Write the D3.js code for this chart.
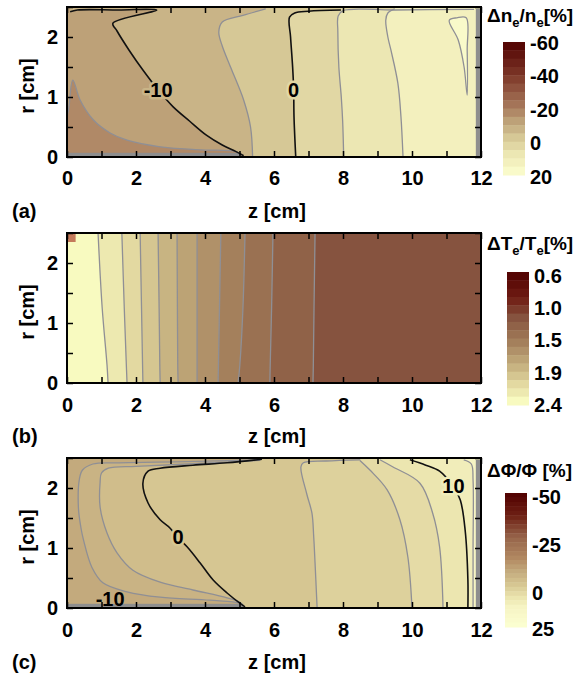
<!DOCTYPE html>
<html>
<head>
<meta charset="utf-8">
<script src="https://cdn.jsdelivr.net/npm/d3@7/dist/d3.min.js"></script>
<style>
  body { margin: 0; background: #fff; }
  text { font-family: "Liberation Sans", Arial, sans-serif; font-weight: bold; }
</style>
</head>
<body>
<div id="chart"></div>
<script>
// ticks shared by the three panels (cm)
var zTicks = [0, 1, 2, 3, 4, 5, 6, 7, 8, 9, 10, 11, 12];
var rTicks = [0, 0.5, 1, 1.5, 2, 2.5];

// ---- (a) dne/ne [%] ; contour points are [z, r] in cm
var neTicks = [-60, -40, -20, 0, 20];
var neTickLabels = ["-60", "-40", "-20", "0", "20"];
var neBase = -12.5;
var neCorner = [[0.05, 0], [0.07, 0.9], [0.17, 1.28], [0.38, 0.95], [0.76, 0.62], [1.25, 0.4], [1.74, 0.28], [2.7, 0.17], [3.87, 0.12], [4.94, 0.08], [5.0, 0]];
var neM10 = [[0.09, 2.42], [0.3, 2.45], [1.5, 2.45], [2.6, 2.45], [1.33, 2.23], [1.45, 2.1], [1.8, 1.78], [2.2, 1.45], [2.64, 1.12], [3.07, 0.84], [3.55, 0.6], [4.05, 0.36], [4.5, 0.2], [4.9, 0.09], [5.12, 0.02]];
var neM5 = [[5.76, 2.47], [5.1, 2.36], [4.5, 2.25], [4.4, 2.08], [4.5, 1.85], [4.74, 1.5], [5.12, 0.95], [5.32, 0.5], [5.38, 0]];
var ne0 = [[7.94, 2.45], [7.0, 2.43], [6.6, 2.4], [6.45, 2.33], [6.48, 2.0], [6.54, 1.5], [6.57, 1.12], [6.58, 0.67], [6.63, 0]];
var neP5 = [[11.8, 2.46], [9.5, 2.45], [8.0, 2.44], [7.86, 2.35], [7.85, 2.1], [7.88, 1.5], [7.95, 1.0], [7.99, 0.6], [8.02, 0]];
var neP10 = [[9.5, 2.47], [9.3, 2.4], [9.24, 2.28], [9.3, 2.0], [9.39, 1.78], [9.59, 1.23], [9.68, 0.67], [9.74, 0]];
var neP15 = [[11.08, 2.28], [11.3, 2.32], [11.57, 2.32], [11.6, 1.78], [11.6, 1.03], [11.51, 1.5], [11.34, 1.95]];
var neLevels = [-15, -10, -5, 0, 5, 10, 15];
var neFills = [-17.5, -7.5, -2.5, 2.5, 7.5, 12.5, 17.5];
var neWalls = [[11.85, 12, 0, 2.47], [0, 5.05, 0, 0.07]];
var neLabels = [["-10", 2.64, 1.12, -7.5], ["0", 6.57, 1.12, 2.5]];

// ---- (b) dTe/Te [%] ; nearly straight lines, z at r = 2.5, 1.25, 0.3, 0
var teTicks = [0.6, 1.05, 1.5, 1.95, 2.4];
var teTickLabels = ["0.6", "1.0", "1.5", "1.9", "2.4"];
var teBase = 2.34;
var teTop = [0.9, 1.59, 2.12, 2.64, 3.19, 3.77, 4.46, 5.16, 5.97, 7.19];
var teMid = [1.02, 1.66, 2.16, 2.67, 3.2, 3.77, 4.42, 5.1, 5.93, 7.16];
var teLow = [1.16, 1.72, 2.19, 2.69, 3.21, 3.77, 4.39, 5.01, 5.89, 7.14];
var teBot = [1.19, 1.74, 2.2, 2.7, 3.22, 3.77, 4.38, 4.96, 5.88, 7.13];
var teLevels = [2.29, 2.18, 2.06, 1.95, 1.84, 1.73, 1.61, 1.5, 1.39, 1.28];
var teFills = [2.23, 2.12, 2.01, 1.89, 1.78, 1.67, 1.56, 1.44, 1.33, 1.22];
var teCorner = [[0, 0.25, 2.35, 2.5]];

// ---- (c) dPhi/Phi [%]
var phTicks = [-50, -25, 0, 25];
var phTickLabels = ["-50", "-25", "0", "25"];
var phBase = -6.25;
var phM5 = [[5.6, 2.47], [3.5, 2.44], [1.5, 2.42], [0.75, 2.4], [0.45, 2.3], [0.36, 2.15], [0.33, 1.68], [0.4, 1.35], [0.48, 1.13], [0.72, 0.68], [1.04, 0.42], [1.74, 0.27], [2.7, 0.18], [4.14, 0.13], [5.0, 0.08], [5.1, 0.03]];
var phM2 = [[5.6, 2.46], [3.5, 2.4], [2.0, 2.36], [1.2, 2.33], [1.0, 2.25], [0.96, 2.1], [0.96, 1.68], [1.16, 1.25], [1.45, 0.92], [1.91, 0.63], [2.7, 0.43], [3.65, 0.3], [4.64, 0.17], [5.0, 0.1], [5.12, 0.04]];
var ph0 = [[5.65, 2.48], [4.64, 2.42], [3.65, 2.38], [2.7, 2.33], [2.35, 2.28], [2.2, 2.08], [2.35, 1.75], [2.7, 1.47], [2.99, 1.33], [3.2, 1.18], [3.48, 1.02], [3.86, 0.75], [4.23, 0.47], [4.64, 0.25], [5.01, 0.08], [5.16, 0.02]];
var phP2 = [[8.5, 2.47], [7.5, 2.45], [6.85, 2.42], [6.78, 2.35], [6.95, 1.9], [7.1, 1.58], [7.15, 1.2], [7.19, 0.75], [7.25, 0]];
var phP5 = [[8.49, 2.46], [8.78, 2.3], [9.28, 1.97], [9.65, 1.47], [9.88, 0.85], [10.0, 0]];
var phP7 = [[9.07, 2.47], [9.45, 2.35], [10.23, 2.08], [10.6, 1.58], [10.8, 1.02], [10.9, 0]];
var phP10 = [[9.94, 2.47], [10.4, 2.38], [10.8, 2.28], [11.2, 2.02], [11.4, 1.8], [11.54, 1.3], [11.62, 0.47], [11.62, 0]];
var phP12 = [[11.5, 2.47], [11.72, 2.4], [11.77, 2.13], [11.77, 1.0], [11.77, 0]];
var phLevels = [-5, -2.5, 0, 2.5, 5, 7.5, 10, 12.5];
var phFills = [-3.75, -1.25, 1.25, 3.75, 6.25, 8.75, 11.25, 13.75];
var phWalls = [[11.85, 12, 0, 2.47], [0, 5.1, 0, 0.07]];
var phLabels = [["0", 3.22, 1.18, 1.25], ["10", 11.2, 2.04, 11.25], ["-10", 1.25, 0.15, null]];

var svg = d3.select("#chart").append("svg").attr("width", 576).attr("height", 681);
var x = d3.scaleLinear().domain([0, 12]).range([67, 481]);

var panels = [
  {
    id: "a", top: 7, bottom: 157, pad: 14, tag: "(a)", textY: 218,
    base: neBase, levels: neLevels, fills: neFills, walls: neWalls, labels: neLabels,
    lines: [neCorner, neM10, neM5, ne0, neP5, neP10, neP15],
    closed: [true, false, false, false, false, false, true],
    bands: 16, cbDomain: [-60, 20], cbX: 503, cbY: [42, 175],
    tickScale: d3.scaleLinear().domain([-60, 20]).range([43, 177]),
    ticks: neTicks, tickLabels: neTickLabels,
    title: [["Δn", 0], ["e", 1], ["/n", 0], ["e", 1], ["[%]", 0]], titleY: 22,
    rampStops: [0, 0.25, 0.5, 0.6, 0.72, 0.84, 1],
    rampColors: ["#500000", "#7d3728", "#aa7d5f", "#bea37a", "#d6c896", "#ece6b2", "#fcffd0"]
  },
  {
    id: "b", top: 233, bottom: 383, pad: 15, tag: "(b)", textY: 443,
    base: teBase, levels: teLevels, fills: teFills, walls: [], labels: [],
    lines: teTop.map(function(d, i) { return [[teTop[i], 2.5], [teMid[i], 1.25], [teLow[i], 0.3], [teBot[i], 0]]; }),
    closed: teTop.map(function() { return false; }),
    bands: 16, cbDomain: [0.6, 2.4], cbX: 507, cbY: [272, 405],
    tickScale: d3.scaleLinear().domain([0.6, 2.4]).range([276, 405]),
    ticks: teTicks, tickLabels: teTickLabels,
    title: [["ΔT", 0], ["e", 1], ["/T", 0], ["e", 1], ["[%]", 0]], titleY: 250,
    rampStops: [0, 0.2, 0.34, 0.53, 0.72, 0.84, 0.97, 1],
    rampColors: ["#500000", "#701e14", "#85523e", "#a4805c", "#c8b482", "#e2d8a0", "#f8fac0", "#fcffc8"]
  },
  {
    id: "c", top: 458, bottom: 608, pad: 15, tag: "(c)", textY: 669,
    base: phBase, levels: phLevels, fills: phFills, walls: phWalls, labels: phLabels,
    lines: [phM5, phM2, ph0, phP2, phP5, phP7, phP10, phP12],
    closed: [false, false, false, false, false, false, false, false],
    bands: 30, cbDomain: [-50, 25], cbX: 505, cbY: [493, 627],
    tickScale: d3.scaleLinear().domain([-50, 0, 25]).range([497, 593, 629]),
    ticks: phTicks, tickLabels: phTickLabels,
    title: [["ΔΦ/Φ [%]", 0]], titleY: 477,
    rampStops: [0, 0.17, 0.33, 0.5, 0.583, 0.683, 0.783, 0.85, 1],
    rampColors: ["#500000", "#6e2014", "#96644a", "#b48c64", "#c3aa7d", "#d6c692", "#ece6b0", "#f6f4c4", "#fcffd2"]
  }
];

panels.forEach(drawPanel);

function drawPanel(p) {
  var y = d3.scaleLinear().domain([0, 2.5]).range([p.bottom, p.top]);
  var ramp = d3.scaleLinear().domain(p.rampStops).range(p.rampColors).clamp(true);
  var color = function(v) {
    var t = (v - p.cbDomain[0]) / (p.cbDomain[1] - p.cbDomain[0]);
    var k = Math.max(0, Math.min(p.bands - 1, Math.floor(t * p.bands)));
    return ramp((k + 0.5) / p.bands);
  };
  var g = svg.append("g");

  g.append("clipPath").attr("id", "clip-" + p.id)
    .append("rect")
    .attr("x", x(0)).attr("y", y(2.5))
    .attr("width", x(12) - x(0)).attr("height", y(0) - y(2.5));
  var plot = g.append("g").attr("clip-path", "url(#clip-" + p.id + ")");

  plot.append("rect")
    .attr("x", x(0)).attr("y", y(2.5))
    .attr("width", x(12) - x(0)).attr("height", y(0) - y(2.5))
    .attr("fill", color(p.base));

  var open = d3.line().x(function(d) { return x(d[0]); }).y(function(d) { return y(d[1]); })
    .curve(d3.curveCatmullRom.alpha(0.5));
  var shut = d3.line().x(function(d) { return x(d[0]); }).y(function(d) { return y(d[1]); })
    .curve(d3.curveCatmullRomClosed.alpha(0.5));

  // filled bands, painted left to right
  p.lines.forEach(function(pts, i) {
    var d;
    if (p.closed[i]) {
      d = shut(pts);
    } else {
      var first = pts[0], last = pts[pts.length - 1];
      d = open(pts) +
        "L" + x(last[0]) + "," + y(-0.2) +
        "L" + x(12.5) + "," + y(-0.2) +
        "L" + x(12.5) + "," + y(2.7) +
        "L" + x(first[0]) + "," + y(2.7) + "Z";
    }
    plot.append("path").attr("d", d).attr("fill", color(p.fills[i]));
  });

  if (p.id === "b") {
    teCorner.forEach(function(c) {
      plot.append("rect")
        .attr("x", x(c[0])).attr("y", y(c[3]))
        .attr("width", x(c[1]) - x(c[0])).attr("height", y(c[2]) - y(c[3]))
        .attr("fill", "#c47a5a");
    });
  }

  // dense contours squeezed against the walls
  p.walls.forEach(function(w) {
    plot.append("rect")
      .attr("x", x(w[0])).attr("y", y(w[3]))
      .attr("width", x(w[1]) - x(w[0])).attr("height", y(w[2]) - y(w[3]))
      .attr("fill", "#8e8e8e");
  });

  var labelled = p.labels.map(function(l) { return +l[0]; });
  p.lines.forEach(function(pts, i) {
    var black = labelled.indexOf(p.levels[i]) >= 0;
    plot.append("path")
      .attr("d", p.closed[i] ? shut(pts) : open(pts))
      .attr("fill", "none")
      .attr("stroke", black ? "#111" : "#8f8f95")
      .attr("stroke-width", black ? 1.6 : 1.3);
  });

  p.labels.forEach(function(l) {
    var t = plot.append("text")
      .attr("x", x(l[1])).attr("y", y(l[2])).attr("dy", "0.36em")
      .attr("text-anchor", "middle").attr("font-size", 20)
      .text(l[0]);
    if (l[3] !== null) {
      t.attr("stroke", color(l[3])).attr("stroke-width", 5)
        .attr("paint-order", "stroke").attr("stroke-linejoin", "round");
    }
  });

  // axes with inward ticks on all four sides
  function style(sel) {
    sel.attr("font-family", null).attr("font-size", 20);
    sel.select(".domain").remove();
    sel.selectAll("line").attr("stroke", "#000").attr("stroke-width", 1.5);
    sel.selectAll("text").attr("fill", "#000");
  }
  g.append("g").attr("transform", "translate(0," + y(0) + ")")
    .call(d3.axisBottom(x).tickValues(zTicks)
      .tickFormat(function(d) { return d % 2 ? "" : d; })
      .tickSizeInner(-6).tickSizeOuter(0).tickPadding(p.pad))
    .call(style);
  g.append("g").attr("transform", "translate(0," + y(2.5) + ")")
    .call(d3.axisTop(x).tickValues(zTicks).tickFormat("").tickSizeInner(-6).tickSizeOuter(0))
    .call(style);
  g.append("g").attr("transform", "translate(" + x(0) + ",0)")
    .call(d3.axisLeft(y).tickValues(rTicks)
      .tickFormat(function(d) { return d % 1 ? "" : d; })
      .tickSizeInner(-6).tickSizeOuter(0).tickPadding(9))
    .call(style);
  g.append("g").attr("transform", "translate(" + x(12) + ",0)")
    .call(d3.axisRight(y).tickValues(rTicks).tickFormat("").tickSizeInner(-6).tickSizeOuter(0))
    .call(style);

  g.append("rect")
    .attr("x", x(0)).attr("y", y(2.5))
    .attr("width", x(12) - x(0)).attr("height", y(0) - y(2.5))
    .attr("fill", "none").attr("stroke", "#000").attr("stroke-width", 2);

  g.append("text")
    .attr("x", (x(0) + x(12)) / 2 + 3).attr("y", p.textY)
    .attr("text-anchor", "middle").attr("font-size", 20)
    .text("z [cm]");
  g.append("text")
    .attr("x", 12).attr("y", p.textY)
    .attr("font-size", 20)
    .text(p.tag);
  g.append("text")
    .attr("transform", "translate(34," + ((p.top + p.bottom) / 2 + 4) + ") rotate(-90)")
    .attr("text-anchor", "middle").attr("font-size", 20)
    .text("r [cm]");

  // colour bar
  var cy = d3.scaleLinear().domain(p.cbDomain).range(p.cbY);
  var step = (p.cbDomain[1] - p.cbDomain[0]) / p.bands;
  var edges = d3.range(p.bands).map(function(i) { return p.cbDomain[0] + i * step; });
  g.selectAll(".band").data(edges).enter().append("rect")
    .attr("x", p.cbX).attr("width", 22)
    .attr("y", function(d) { return cy(d); })
    .attr("height", function(d) { return cy(d + step) - cy(d) + 0.5; })
    .attr("fill", function(d) { return color(d + step / 2); });

  g.append("g").attr("transform", "translate(" + (p.cbX + 22) + ",0)")
    .call(d3.axisRight(p.tickScale).tickValues(p.ticks)
      .tickFormat(function(d, i) { return p.tickLabels[i]; })
      .tickSize(0).tickPadding(5))
    .call(style);

  var title = g.append("text").attr("x", 487).attr("y", p.titleY).attr("font-size", 19);
  p.title.forEach(function(part, i) {
    var prev = i > 0 ? p.title[i - 1][1] : 0;
    title.append("tspan")
      .attr("font-size", part[1] ? 13 : 19)
      .attr("dy", part[1] - prev ? (part[1] ? 5 : -5) : 0)
      .text(part[0]);
  });
}
</script>
</body>
</html>
